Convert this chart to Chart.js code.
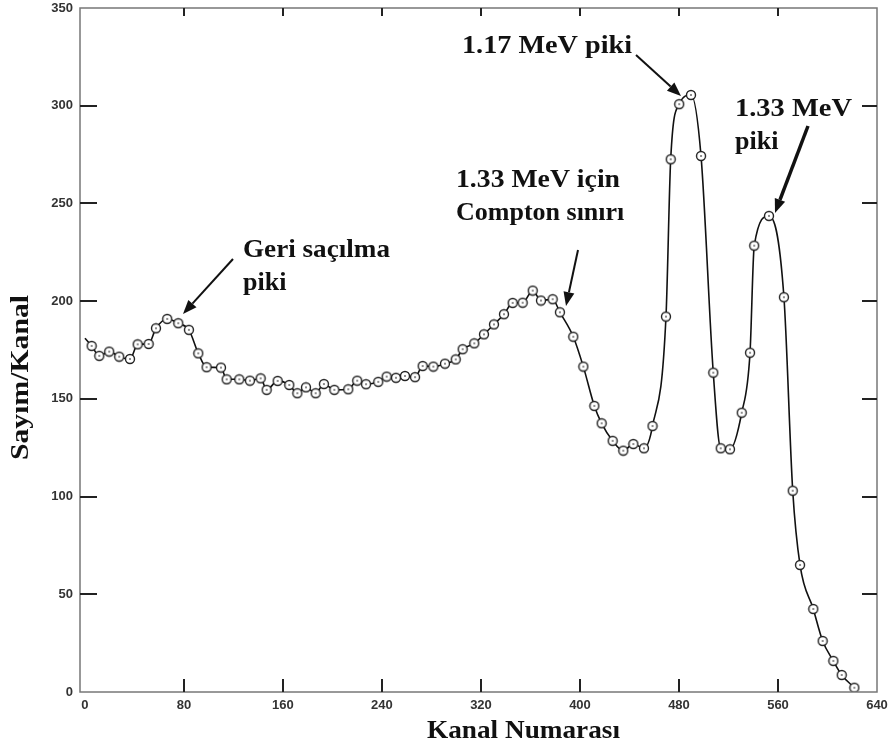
<!DOCTYPE html>
<html>
<head>
<meta charset="utf-8">
<script src="https://cdn.jsdelivr.net/npm/chart.js@4/dist/chart.umd.min.js"></script>
<style>
  html, body { margin: 0; padding: 0; background: #fff; }
  #wrap { width: 891px; height: 749px; position: relative; }
</style>
</head>
<body>
<div id="wrap"><canvas id="spectrum"></canvas></div>
<script>
'use strict';

// tick values
const xTicks = [0, 80, 160, 240, 320, 400, 480, 560, 640];
const yTicks = [0, 50, 100, 150, 200, 250, 300, 350];

// Co-60 spectrum
const channels = [0, 5.4, 11.6, 19.6, 27.7, 36.4, 42.6, 51.5, 57.4, 66.5, 75.4, 84.0, 91.6, 98.3,
    109.9, 114.5, 124.7, 133.3, 142.0, 146.8, 155.7, 165.1, 171.6, 178.6, 186.4, 193.1, 201.5,
    212.8, 220.0, 227.1, 237.0, 243.8, 251.3, 258.6, 266.7, 272.9, 281.5, 290.9, 299.6, 305.2,
    314.6, 322.4, 330.5, 338.6, 345.6, 353.7, 361.8, 368.5, 377.9, 383.8, 394.6, 402.7, 411.6,
    417.5, 426.4, 435.0, 443.1, 451.7, 458.6, 469.5, 473.3, 480.2, 489.7, 497.8, 507.7, 513.7,
    521.2, 530.7, 537.4, 540.8, 552.7, 564.8, 571.9, 577.8, 588.5, 596.1, 604.7, 611.5, 621.7];
const counts = [181, 177.1, 172.0, 174.2, 171.6, 170.4, 177.9, 178.1, 186.1, 190.9, 188.7, 185.3,
    173.3, 166.2, 166.0, 160.0, 160.0, 159.3, 160.5, 154.6, 159.2, 157.1, 152.9, 155.9, 152.9,
    157.6, 154.6, 154.9, 159.3, 157.5, 158.7, 161.4, 160.8, 161.7, 161.1, 166.8, 166.5, 168.0,
    170.2, 175.4, 178.4, 183.0, 188.1, 193.3, 199.1, 199.2, 205.4, 200.3, 201.0, 194.3, 181.8,
    166.5, 146.4, 137.5, 128.5, 123.5, 126.9, 124.7, 136.1, 192.1, 272.6, 300.8, 305.5, 274.3,
    163.4, 124.7, 124.2, 142.9, 173.6, 228.4, 243.6, 202.0, 103.0, 65.0, 42.5, 26.1, 15.9, 8.7, 2.2];

// annotation labels
const xTitle = 'Kanal Numarası';
const yTitle = 'Sayım/Kanal';
const notes = [
    { lines: ['Geri saçılma', 'piki'], x: 243, y: 257, w: 147, arrow: [233, 259, 183, 314], thick: 2 },
    { lines: ['1.33 MeV için', 'Compton sınırı'], x: 456, y: 187, w: 164, arrow: [578, 250, 566, 306], thick: 2 },
    { lines: ['1.17 MeV piki'], x: 462, y: 53, w: 170, arrow: [636, 55, 681, 96], thick: 2 },
    { lines: ['1.33 MeV', 'piki'], x: 735, y: 116, w: 117, arrow: [808, 126, 775, 213], thick: 3.5 }
];

// circle marker with a dot inside
function makeMarker() {
    const c = document.createElement('canvas');
    c.width = 12; c.height = 12;
    const g = c.getContext('2d');
    g.beginPath();
    g.arc(6, 6, 4.5, 0, Math.PI * 2);
    g.fillStyle = '#fff';
    g.fill();
    g.lineWidth = 1.4;
    g.strokeStyle = '#222';
    g.stroke();
    g.beginPath();
    g.arc(6, 6, 1, 0, Math.PI * 2);
    g.fillStyle = '#666';
    g.fill();
    return c;
}

function fitText(ctx, text, x, y, width, size) {
    ctx.save();
    ctx.font = 'bold ' + size + 'px "Liberation Serif", "Times New Roman", serif';
    const natural = ctx.measureText(text).width;
    ctx.translate(x, y);
    ctx.scale(width / natural, 1);
    ctx.fillText(text, 0, 0);
    ctx.restore();
}

function arrow(ctx, x1, y1, x2, y2, thick) {
    const ang = Math.atan2(y2 - y1, x2 - x1);
    const head = 14, half = 5.5;
    const bx = x2 - head * Math.cos(ang), by = y2 - head * Math.sin(ang);
    ctx.save();
    ctx.strokeStyle = '#111';
    ctx.fillStyle = '#111';
    ctx.lineWidth = thick;
    ctx.beginPath();
    ctx.moveTo(x1, y1);
    ctx.lineTo(bx, by);
    ctx.stroke();
    ctx.beginPath();
    ctx.moveTo(x2, y2);
    ctx.lineTo(bx + half * Math.sin(ang), by - half * Math.cos(ang));
    ctx.lineTo(bx - half * Math.sin(ang), by + half * Math.cos(ang));
    ctx.closePath();
    ctx.fill();
    ctx.restore();
}

// frame, inward ticks, labels and arrows
const decorations = {
    id: 'decorations',
    afterDraw(chart) {
        const ctx = chart.ctx;
        const a = chart.chartArea;
        const xs = chart.scales.x, ys = chart.scales.y;

        ctx.save();
        ctx.strokeStyle = '#777';
        ctx.lineWidth = 1.5;
        ctx.strokeRect(a.left, a.top, a.right - a.left, a.bottom - a.top);

        ctx.strokeStyle = '#222';
        ctx.lineWidth = 2;
        xTicks.slice(1, -1).forEach(v => {
            const px = Math.round(xs.getPixelForValue(v));
            ctx.beginPath();
            ctx.moveTo(px, a.bottom); ctx.lineTo(px, a.bottom - 13);
            ctx.moveTo(px, a.top); ctx.lineTo(px, a.top + 8);
            ctx.stroke();
        });
        yTicks.slice(1, -1).forEach(v => {
            const py = Math.round(ys.getPixelForValue(v));
            ctx.beginPath();
            ctx.moveTo(a.left, py); ctx.lineTo(a.left + 17, py);
            ctx.moveTo(a.right, py); ctx.lineTo(a.right - 15, py);
            ctx.stroke();
        });

        ctx.fillStyle = '#111';
        ctx.textBaseline = 'alphabetic';
        fitText(ctx, xTitle, 427, 738, 193, 26);

        ctx.save();
        ctx.translate(28, 460);
        ctx.rotate(-Math.PI / 2);
        fitText(ctx, yTitle, 0, 0, 165, 26);
        ctx.restore();

        notes.forEach(n => {
            n.lines.forEach((t, i) => {
                const w = i === 0 ? n.w : null;
                if (w) {
                    fitText(ctx, t, n.x, n.y + i * 33, w, 26);
                } else {
                    ctx.font = 'bold 26px "Liberation Serif", "Times New Roman", serif';
                    ctx.fillText(t, n.x, n.y + i * 33);
                }
            });
            arrow(ctx, n.arrow[0], n.arrow[1], n.arrow[2], n.arrow[3], n.thick);
        });
        ctx.restore();
    }
};

const points = channels.map((c, i) => ({ x: c, y: counts[i] }));
const tickFont = { family: '"Liberation Sans", Arial, sans-serif', size: 13, weight: 'bold' };

new Chart(document.getElementById('spectrum'), {
    type: 'line',
    data: {
        datasets: [{
            data: points,
            borderColor: '#111',
            borderWidth: 1.6,
            cubicInterpolationMode: 'monotone',
            pointStyle: makeMarker(),
            pointRadius: ctx => ctx.dataIndex === 0 ? 0 : 5,
            fill: false
        }]
    },
    options: {
        responsive: true,
        maintainAspectRatio: false,
        animation: false,
        layout: { padding: { top: 8, right: 14, left: 0, bottom: 0 } },
        plugins: { legend: { display: false }, tooltip: { enabled: false } },
        scales: {
            x: {
                type: 'linear',
                min: -4,
                max: 640,
                grid: { display: false, drawTicks: false },
                border: { display: false },
                afterBuildTicks: s => { s.ticks = xTicks.map(v => ({ value: v })); },
                afterFit: s => { s.height = 57; s.paddingLeft = 0; s.paddingRight = 0; },
                ticks: { font: tickFont, color: '#333', padding: 6, maxRotation: 0 }
            },
            y: {
                min: 0,
                max: 350,
                grid: { display: false, drawTicks: false },
                border: { display: false },
                afterBuildTicks: s => { s.ticks = yTicks.map(v => ({ value: v })); },
                afterFit: s => { s.width = 80; s.paddingTop = 0; s.paddingBottom = 0; },
                ticks: { font: tickFont, color: '#333', padding: 7 }
            }
        }
    },
    plugins: [decorations]
});
</script>
</body>
</html>
